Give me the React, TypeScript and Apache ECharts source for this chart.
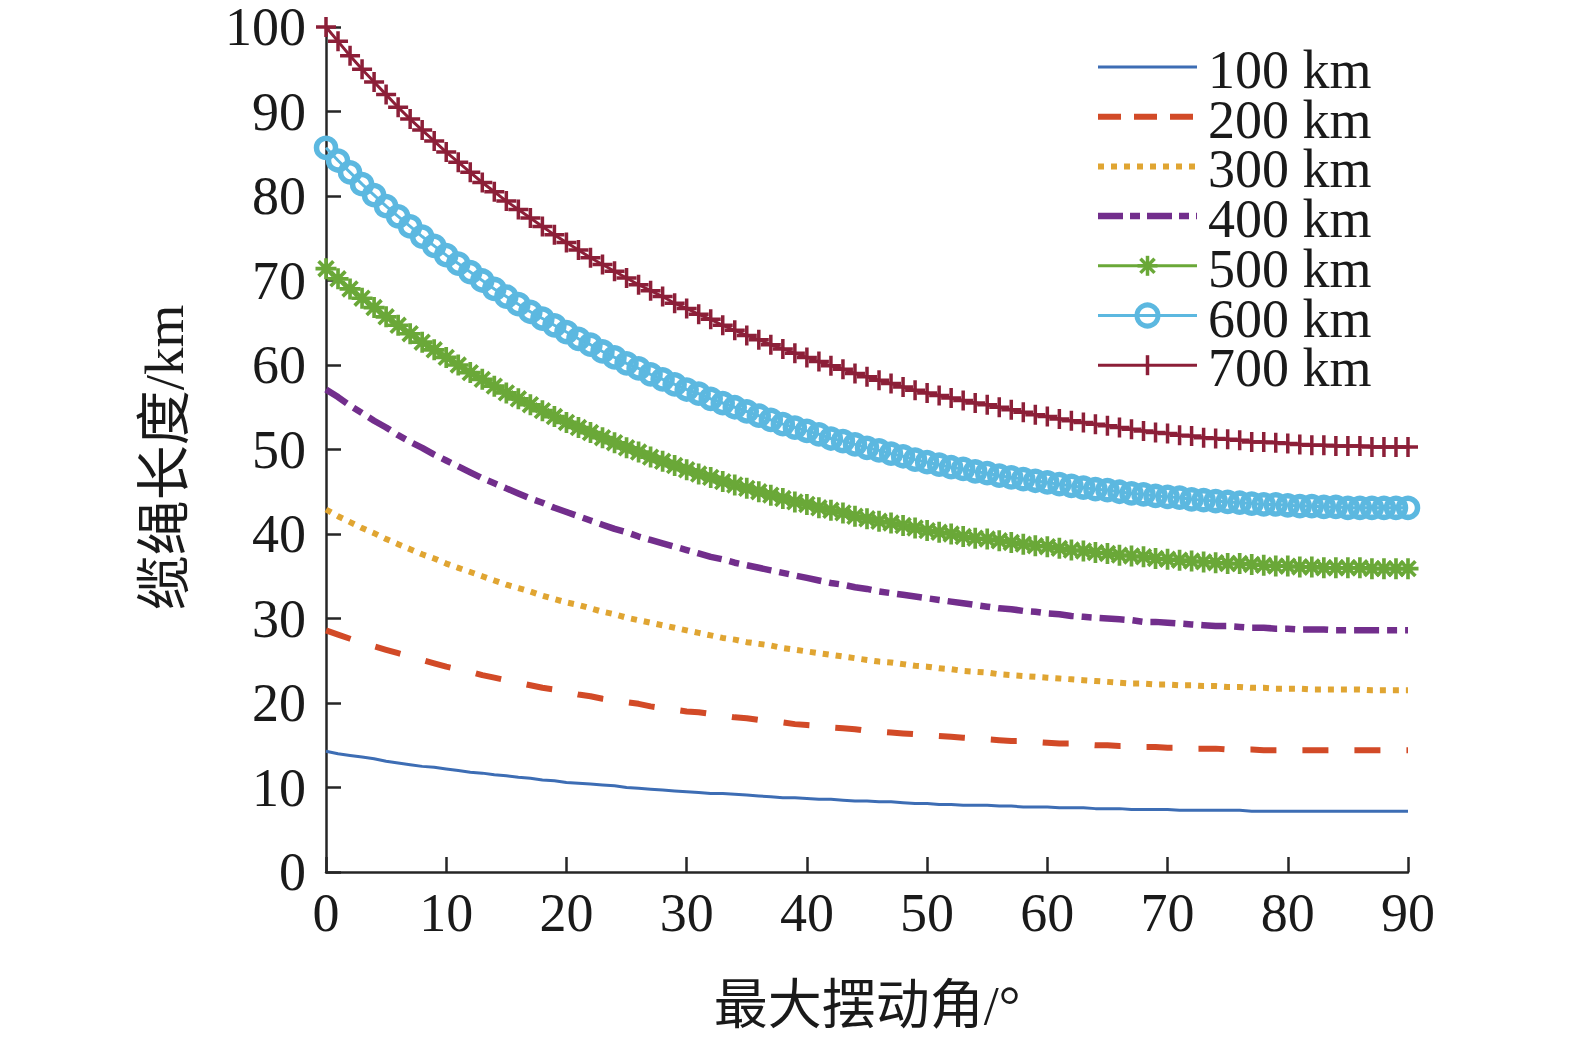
import React, { useEffect, useRef } from "react";
import * as echarts from "echarts";

// Swing angle in degrees (one sample per degree, as the markers show)
const ANGLES: number[] = Array.from({ length: 91 }, (_, i) => i);

const X_TICKS = [0, 10, 20, 30, 40, 50, 60, 70, 80, 90];
const Y_TICKS = [0, 10, 20, 30, 40, 50, 60, 70, 80, 90, 100];

const SERIES_NAMES = ["100 km", "200 km", "300 km", "400 km", "500 km", "600 km", "700 km"];

const L100 = [14.3, 14.0, 13.8, 13.6, 13.4, 13.1, 12.9, 12.7, 12.5, 12.4, 12.2, 12.0, 11.8, 11.7, 11.5, 11.4, 11.2, 11.1, 10.9, 10.8, 10.6, 10.5, 10.4, 10.3, 10.2, 10.0, 9.9, 9.8, 9.7, 9.6, 9.5, 9.4, 9.3, 9.3, 9.2, 9.1, 9.0, 8.9, 8.8, 8.8, 8.7, 8.6, 8.6, 8.5, 8.4, 8.4, 8.3, 8.3, 8.2, 8.1, 8.1, 8.0, 8.0, 7.9, 7.9, 7.9, 7.8, 7.8, 7.7, 7.7, 7.7, 7.6, 7.6, 7.6, 7.5, 7.5, 7.5, 7.4, 7.4, 7.4, 7.4, 7.3, 7.3, 7.3, 7.3, 7.3, 7.3, 7.2, 7.2, 7.2, 7.2, 7.2, 7.2, 7.2, 7.2, 7.2, 7.2, 7.2, 7.2, 7.2, 7.2];
const L200 = [28.6, 28.1, 27.6, 27.1, 26.7, 26.3, 25.9, 25.5, 25.1, 24.7, 24.3, 24.0, 23.7, 23.3, 23.0, 22.7, 22.4, 22.1, 21.8, 21.6, 21.3, 21.0, 20.8, 20.5, 20.3, 20.1, 19.9, 19.6, 19.4, 19.2, 19.0, 18.9, 18.7, 18.5, 18.3, 18.2, 18.0, 17.8, 17.7, 17.5, 17.4, 17.3, 17.1, 17.0, 16.9, 16.7, 16.6, 16.5, 16.4, 16.3, 16.2, 16.1, 16.0, 15.9, 15.8, 15.7, 15.6, 15.5, 15.5, 15.4, 15.3, 15.2, 15.2, 15.1, 15.0, 15.0, 14.9, 14.9, 14.8, 14.8, 14.7, 14.7, 14.6, 14.6, 14.6, 14.5, 14.5, 14.5, 14.4, 14.4, 14.4, 14.4, 14.4, 14.4, 14.4, 14.4, 14.4, 14.4, 14.4, 14.4, 14.4];
const L300 = [42.9, 42.1, 41.4, 40.7, 40.1, 39.4, 38.8, 38.2, 37.6, 37.1, 36.5, 36.0, 35.5, 35.0, 34.5, 34.0, 33.6, 33.2, 32.7, 32.3, 31.9, 31.6, 31.2, 30.8, 30.5, 30.1, 29.8, 29.5, 29.2, 28.9, 28.6, 28.3, 28.0, 27.7, 27.5, 27.2, 27.0, 26.8, 26.5, 26.3, 26.1, 25.9, 25.7, 25.5, 25.3, 25.1, 24.9, 24.8, 24.6, 24.4, 24.3, 24.1, 24.0, 23.8, 23.7, 23.6, 23.4, 23.3, 23.2, 23.1, 23.0, 22.9, 22.8, 22.7, 22.6, 22.5, 22.4, 22.3, 22.3, 22.2, 22.2, 22.1, 22.1, 22.0, 22.0, 21.9, 21.9, 21.8, 21.8, 21.7, 21.7, 21.7, 21.6, 21.6, 21.6, 21.6, 21.6, 21.5, 21.5, 21.5, 21.5];
const L400 = [57.1, 56.2, 55.2, 54.3, 53.4, 52.6, 51.7, 50.9, 50.2, 49.4, 48.7, 48.0, 47.3, 46.6, 46.0, 45.4, 44.8, 44.2, 43.7, 43.1, 42.6, 42.1, 41.6, 41.1, 40.6, 40.2, 39.7, 39.3, 38.9, 38.5, 38.1, 37.7, 37.3, 37.0, 36.6, 36.3, 36.0, 35.7, 35.4, 35.1, 34.8, 34.5, 34.2, 34.0, 33.7, 33.5, 33.2, 33.0, 32.8, 32.6, 32.4, 32.2, 32.0, 31.8, 31.6, 31.4, 31.2, 31.1, 30.9, 30.8, 30.6, 30.5, 30.3, 30.2, 30.1, 30.0, 29.9, 29.8, 29.6, 29.6, 29.5, 29.4, 29.3, 29.2, 29.1, 29.1, 29.0, 28.9, 28.9, 28.8, 28.8, 28.7, 28.7, 28.7, 28.6, 28.6, 28.6, 28.6, 28.6, 28.6, 28.6];
const L500 = [71.4, 70.2, 69.0, 67.9, 66.8, 65.7, 64.7, 63.7, 62.7, 61.8, 60.9, 60.0, 59.1, 58.3, 57.5, 56.7, 56.0, 55.3, 54.6, 53.9, 53.2, 52.6, 52.0, 51.4, 50.8, 50.2, 49.7, 49.1, 48.6, 48.1, 47.6, 47.1, 46.7, 46.2, 45.8, 45.4, 45.0, 44.6, 44.2, 43.8, 43.5, 43.1, 42.8, 42.5, 42.1, 41.8, 41.5, 41.3, 41.0, 40.7, 40.4, 40.2, 40.0, 39.7, 39.5, 39.4, 39.2, 39.0, 38.8, 38.6, 38.5, 38.3, 38.1, 38.0, 37.8, 37.7, 37.5, 37.4, 37.3, 37.1, 37.0, 36.9, 36.8, 36.7, 36.6, 36.5, 36.5, 36.4, 36.3, 36.2, 36.2, 36.1, 36.1, 36.0, 36.0, 36.0, 36.0, 35.9, 35.9, 35.9, 35.9];
const L600 = [85.7, 84.2, 82.8, 81.4, 80.1, 78.8, 77.6, 76.4, 75.2, 74.1, 73.0, 72.0, 71.0, 70.0, 69.0, 68.1, 67.2, 66.3, 65.5, 64.7, 63.9, 63.1, 62.4, 61.6, 60.9, 60.2, 59.6, 58.9, 58.3, 57.7, 57.1, 56.6, 56.0, 55.5, 55.0, 54.5, 54.0, 53.5, 53.0, 52.6, 52.2, 51.8, 51.3, 51.0, 50.6, 50.2, 49.9, 49.5, 49.2, 48.8, 48.5, 48.2, 47.9, 47.7, 47.4, 47.2, 46.9, 46.7, 46.5, 46.3, 46.1, 45.9, 45.7, 45.5, 45.3, 45.2, 45.0, 44.8, 44.7, 44.5, 44.4, 44.3, 44.1, 44.0, 43.9, 43.8, 43.7, 43.6, 43.5, 43.5, 43.4, 43.3, 43.3, 43.2, 43.2, 43.1, 43.1, 43.1, 43.1, 43.1, 43.1];
const L700 = [100.0, 98.3, 96.6, 95.0, 93.5, 92.0, 90.5, 89.1, 87.8, 86.5, 85.2, 84.0, 82.8, 81.6, 80.5, 79.4, 78.4, 77.4, 76.4, 75.4, 74.5, 73.6, 72.7, 71.9, 71.1, 70.3, 69.5, 68.8, 68.1, 67.3, 66.7, 66.0, 65.4, 64.7, 64.1, 63.5, 63.0, 62.4, 61.9, 61.4, 60.9, 60.4, 59.9, 59.5, 59.0, 58.6, 58.2, 57.8, 57.4, 57.0, 56.7, 56.4, 56.1, 55.8, 55.5, 55.3, 55.0, 54.7, 54.4, 54.1, 53.9, 53.6, 53.4, 53.2, 53.0, 52.8, 52.6, 52.4, 52.2, 52.0, 51.9, 51.7, 51.6, 51.4, 51.3, 51.2, 51.1, 50.9, 50.9, 50.8, 50.7, 50.6, 50.5, 50.5, 50.4, 50.4, 50.4, 50.3, 50.3, 50.3, 50.3];

const SERIES_VALUES = [L100, L200, L300, L400, L500, L600, L700];

const X_NAME = "最大摆动角/°";
const Y_NAME = "缆绳长度/km";

const FONT = '"Liberation Serif", "Times New Roman", "Noto Sans CJK SC", serif';
const TEXT_COLOR = "#1a1a1a";
const AXIS_COLOR = "#262626";

const PLUS_PATH =
  "path://M-1.75,-10 L1.75,-10 L1.75,-1.75 L10,-1.75 L10,1.75 L1.75,1.75 L1.75,10 L-1.75,10 L-1.75,1.75 L-10,1.75 L-10,-1.75 L-1.75,-1.75 Z";
const STAR_PATH =
  "path://M-1.75,-10 L1.75,-10 L1.75,10 L-1.75,10 Z M-10,-1.75 L10,-1.75 L10,1.75 L-10,1.75 Z " +
  "M-5.83,-8.31 L8.31,5.83 L5.83,8.31 L-8.31,-5.83 Z M-8.31,5.83 L5.83,-8.31 L8.31,-5.83 L-5.83,8.31 Z";

const STYLES: any[] = [
  { color: "#3d6db4", width: 3, type: "solid", dash: null, symbol: "none" },
  { color: "#d24a27", width: 6, type: [26, 26], dash: [23, 13], symbol: "none" },
  { color: "#e0a532", width: 6, type: [6, 7], dash: [6, 7], symbol: "none" },
  { color: "#722e8c", width: 6.5, type: [25, 8, 10, 8], dash: [25, 7, 10, 7], symbol: "none" },
  { color: "#6aa838", width: 3, type: "solid", dash: null, symbol: STAR_PATH, size: 21, fill: "#6aa838", border: 0, mark: "star" },
  { color: "#5cb8e0", width: 3, type: "solid", dash: null, symbol: "circle", size: 19, fill: "rgba(0,0,0,0)", border: 5.5, mark: "circle" },
  { color: "#8c1f38", width: 3, type: "solid", dash: null, symbol: PLUS_PATH, size: 20, fill: "#8c1f38", border: 0, mark: "plus" },
];

// legend layout
const LEG_X0 = 1098;
const LEG_X1 = 1197;
const LEG_TEXT_X = 1208;
const LEG_Y0 = 67;
const LEG_DY = 49.7;

function legendGraphics() {
  const els: any[] = [];
  SERIES_NAMES.forEach((name, k) => {
    const st = STYLES[k];
    const y = LEG_Y0 + k * LEG_DY;
    const cx = (LEG_X0 + LEG_X1) / 2;
    els.push({
      type: "line",
      shape: { x1: LEG_X0, y1: y, x2: LEG_X1, y2: y },
      style: { stroke: st.color, lineWidth: st.width, lineDash: st.dash || undefined, lineCap: "butt" },
      silent: true,
      z: 10,
    });
    if (st.mark === "circle") {
      els.push({
        type: "circle",
        shape: { cx, cy: y, r: 10.5 },
        style: { fill: "none", stroke: st.color, lineWidth: 5 },
        silent: true,
        z: 11,
      });
    } else if (st.mark === "plus") {
      els.push({
        type: "line",
        shape: { x1: cx, y1: y - 10, x2: cx, y2: y + 10 },
        style: { stroke: st.color, lineWidth: 3.5 },
        silent: true,
        z: 11,
      });
    } else if (st.mark === "star") {
      const r = 10;
      const d = 7.07;
      [
        [0, -r, 0, r],
        [-r, 0, r, 0],
        [-d, -d, d, d],
        [-d, d, d, -d],
      ].forEach((s) =>
        els.push({
          type: "line",
          shape: { x1: cx + s[0], y1: y + s[1], x2: cx + s[2], y2: y + s[3] },
          style: { stroke: st.color, lineWidth: 3.5 },
          silent: true,
          z: 11,
        })
      );
    }
    els.push({
      type: "text",
      x: LEG_TEXT_X,
      y: y + 3,
      style: {
        text: name,
        fontFamily: FONT,
        fontSize: 54,
        lineHeight: 46,
        fill: TEXT_COLOR,
        textAlign: "left",
        textVerticalAlign: "middle",
      },
      silent: true,
      z: 11,
    });
  });
  return els;
}

export default function App() {
  const ref = useRef<HTMLDivElement>(null);

  useEffect(() => {
    if (!ref.current) return;
    const chart = echarts.init(ref.current, undefined, { renderer: "svg" });

    const series = SERIES_NAMES.map((name, k) => {
      const st = STYLES[k];
      const hasSym = st.symbol !== "none";
      return {
        name,
        type: "line",
        data: SERIES_VALUES[k].map((v, i) => [ANGLES[i], v]),
        showSymbol: hasSym,
        showAllSymbol: true,
        symbol: st.symbol,
        symbolSize: st.size || 0,
        symbolKeepAspect: true,
        smooth: false,
        lineStyle: { color: st.color, width: st.width, type: st.type, cap: "butt" },
        itemStyle: hasSym
          ? { color: st.fill, borderColor: st.color, borderWidth: st.border }
          : { color: st.color },
        emphasis: { disabled: true },
        z: 2 + k,
      };
    });

    chart.setOption({
      animation: false,
      backgroundColor: "#ffffff",
      grid: { left: 326, right: 167, top: 26, bottom: 164.5, containLabel: false },
      graphic: legendGraphics(),
      xAxis: {
        type: "value",
        min: 0,
        max: 90,
        interval: 10,
        name: X_NAME,
        nameLocation: "middle",
        nameGap: 107,
        nameTextStyle: { fontFamily: FONT, fontSize: 54, color: TEXT_COLOR },
        axisLine: { show: true, onZero: false, lineStyle: { color: AXIS_COLOR, width: 2.5 } },
        axisTick: { show: true, inside: true, length: 15, lineStyle: { color: AXIS_COLOR, width: 2.5 } },
        axisLabel: {
          fontFamily: FONT,
          fontSize: 54,
          color: TEXT_COLOR,
          margin: 14,
          formatter: (v: number) => (X_TICKS.includes(v) ? String(v) : ""),
        },
        splitLine: { show: false },
      },
      yAxis: {
        type: "value",
        min: 0,
        max: 100,
        interval: 10,
        name: Y_NAME,
        nameLocation: "middle",
        nameGap: 134,
        nameRotate: 90,
        nameTextStyle: { fontFamily: FONT, fontSize: 55, color: TEXT_COLOR, padding: [0, 16, 0, 0] },
        axisLine: { show: true, onZero: false, lineStyle: { color: AXIS_COLOR, width: 2.5 } },
        axisTick: { show: true, inside: true, length: 15, lineStyle: { color: AXIS_COLOR, width: 2.5 } },
        axisLabel: {
          fontFamily: FONT,
          fontSize: 54,
          lineHeight: 42,
          color: TEXT_COLOR,
          margin: 20,
          padding: [6, 0, 0, 0],
          formatter: (v: number) => (Y_TICKS.includes(v) ? String(v) : ""),
        },
        splitLine: { show: false },
      },
      series,
    });

    return () => chart.dispose();
  }, []);

  return (
    <div
      ref={ref}
      style={{ position: "fixed", left: 0, top: 0, width: 1575, height: 1038, background: "#fff" }}
    />
  );
}
